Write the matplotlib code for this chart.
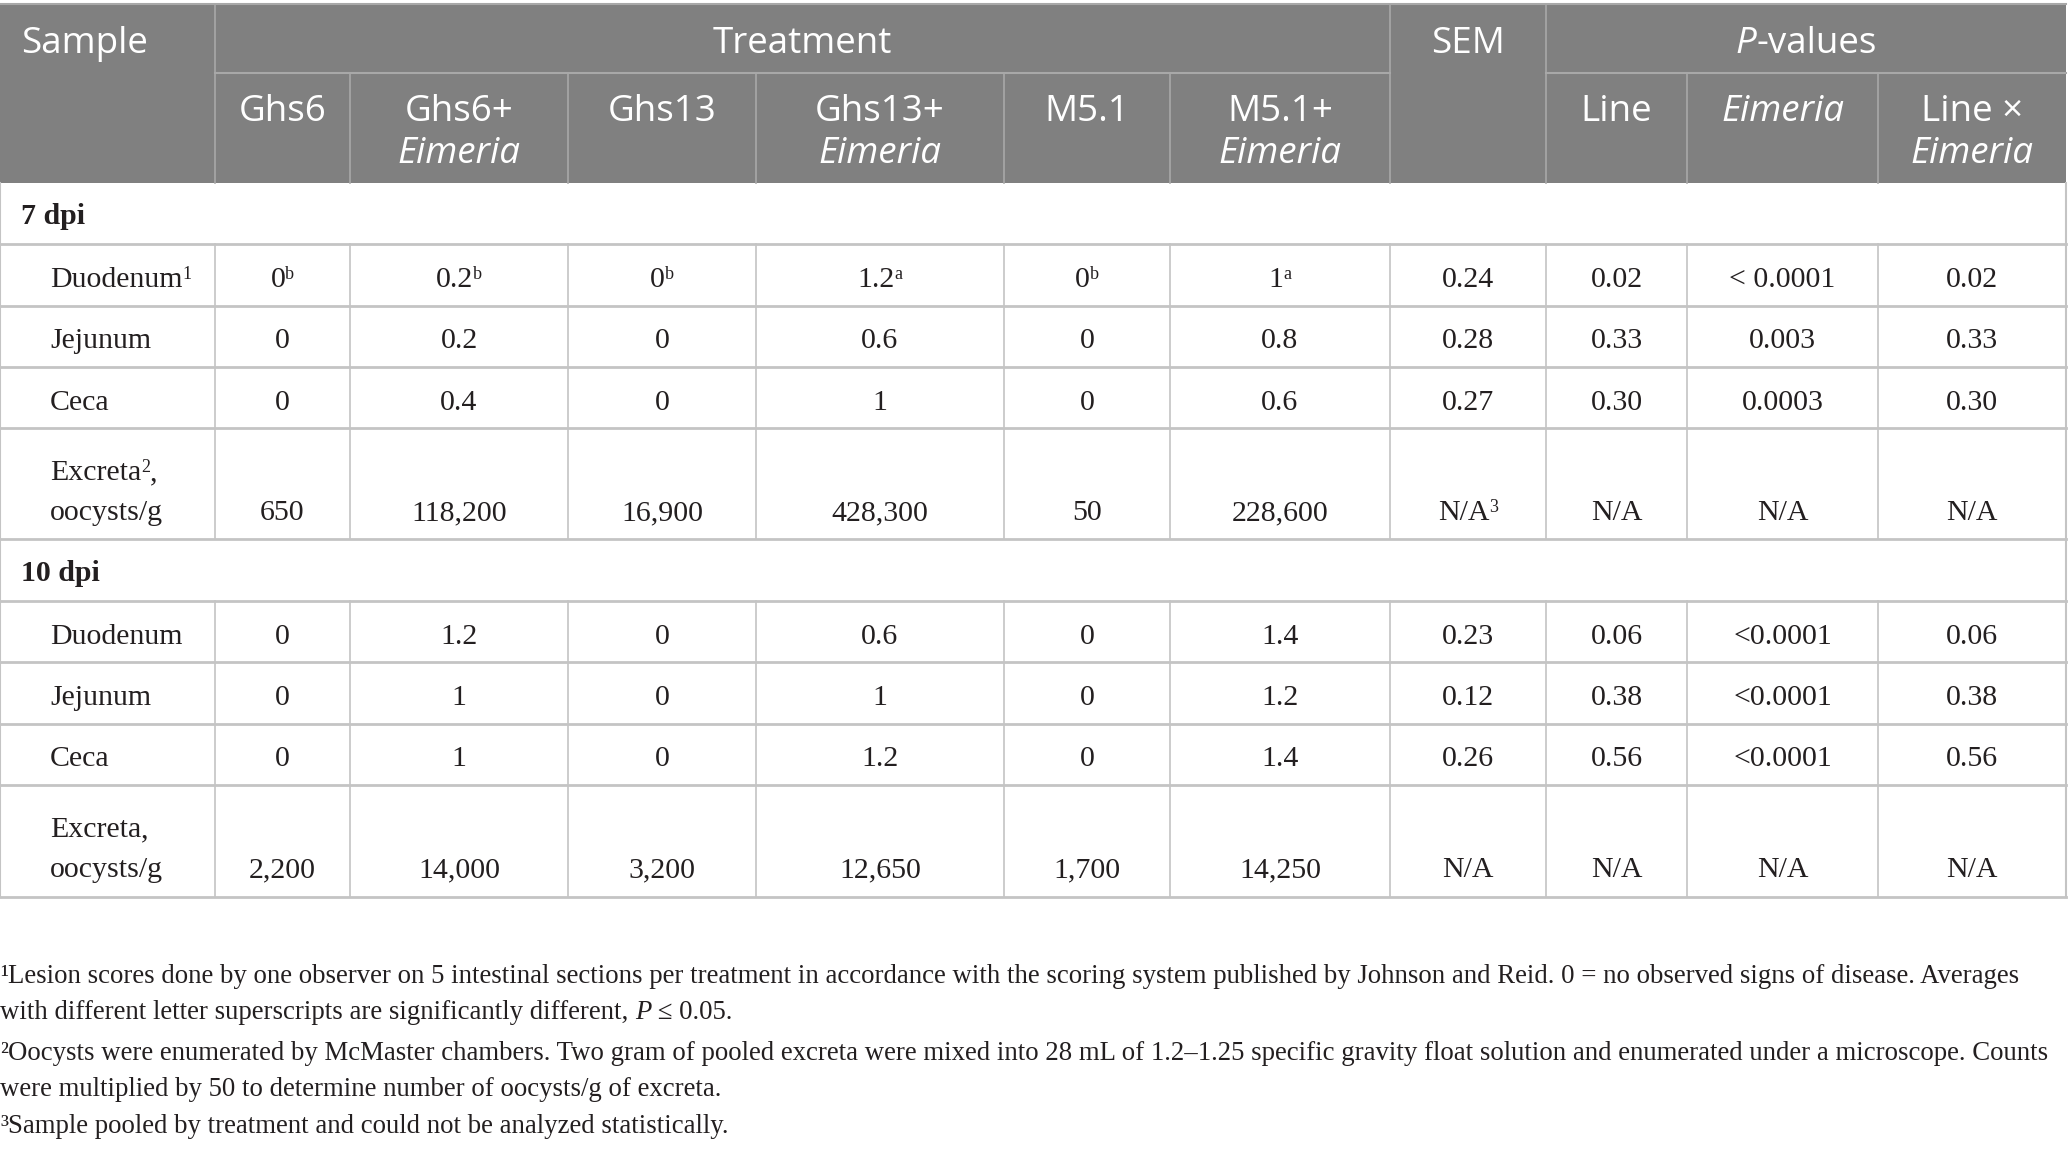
import matplotlib
matplotlib.use("Agg")
import matplotlib.pyplot as plt
from matplotlib.patches import Rectangle

# ---------------- data ----------------
treatments = ["Ghs6", "Ghs6+", "Ghs13", "Ghs13+", "M5.1", "M5.1+"]
treat_eimeria = [False, True, False, True, False, True]
pval_heads = ["Line", "", "Line ×"]
pval_eimeria = [False, True, True]

rows7 = ["Duodenum", "Jejunum", "Ceca", "Excreta"]
rows7_sup = ["1", "", "", "2"]
rows10 = ["Duodenum", "Jejunum", "Ceca", "Excreta"]
rows10_sup = ["", "", "", ""]

d7_duodenum = ["0", "0.2", "0", "1.2", "0", "1"]
d7_duodenum_sup = ["b", "b", "b", "a", "b", "a"]
d7_jejunum = ["0", "0.2", "0", "0.6", "0", "0.8"]
d7_ceca = ["0", "0.4", "0", "1", "0", "0.6"]
d7_excreta = ["650", "118,200", "16,900", "428,300", "50", "228,600"]
sem7 = ["0.24", "0.28", "0.27", "N/A"]
sem7_sup = ["", "", "", "3"]
p_line7 = ["0.02", "0.33", "0.30", "N/A"]
p_eim7 = ["< 0.0001", "0.003", "0.0003", "N/A"]
p_int7 = ["0.02", "0.33", "0.30", "N/A"]

d10_duodenum = ["0", "1.2", "0", "0.6", "0", "1.4"]
d10_jejunum = ["0", "1", "0", "1", "0", "1.2"]
d10_ceca = ["0", "1", "0", "1.2", "0", "1.4"]
d10_excreta = ["2,200", "14,000", "3,200", "12,650", "1,700", "14,250"]
sem10 = ["0.23", "0.12", "0.26", "N/A"]
p_line10 = ["0.06", "0.38", "0.56", "N/A"]
p_eim10 = ["<0.0001", "<0.0001", "<0.0001", "N/A"]
p_int10 = ["0.06", "0.38", "0.56", "N/A"]

footnotes = [
    [("¹", "sup"), ("Lesion scores done by one observer on 5 intestinal sections per treatment in accordance with the scoring system published by Johnson and Reid. 0 = no observed signs of disease. Averages", "n")],
    [("with different letter superscripts are significantly different, ", "n"), ("P", "i"), (" ≤ 0.05.", "n")],
    [("²", "sup"), ("Oocysts were enumerated by McMaster chambers. Two gram of pooled excreta were mixed into 28 mL of 1.2–1.25 specific gravity float solution and enumerated under a microscope. Counts", "n")],
    [("were multiplied by 50 to determine number of oocysts/g of excreta.", "n")],
    [("³", "sup"), ("Sample pooled by treatment and could not be analyzed statistically.", "n")],
]

# ---------------- layout ----------------
W, H = 2068, 1149
col_edges = [0, 215, 350, 568, 756, 1004, 1170, 1390, 1546, 1687, 1878, 2066]
hdr_top, hdr_mid, hdr_bot = 4, 73, 183
row_edges = [183, 244, 306, 367, 428, 539, 601, 662, 724, 785, 897]

HDR_BG = "#808080"
HDR_LINE = "#a8a8a8"
BODY_LINE = "#c4c4c4"
TXT = "#231f20"
SANS = "Open Sans"
SERIF = "Liberation Serif"
HS = 26.5
BS = 21.5
SUPS = 13
FS = 19.3

fig = plt.figure(figsize=(W / 100, H / 100), dpi=100)
ax = fig.add_axes([0, 0, 1, 1])
ax.set_xlim(0, W)
ax.set_ylim(H, 0)
ax.axis("off")
renderer = fig.canvas.get_renderer()


def runs(x, y, parts, ha="center"):
    """parts: list of (text, dict of font kwargs, dy)"""
    objs = []
    widths = []
    for s, kw, dy in parts:
        t = ax.text(0, 0, s, va="baseline", ha="left", **kw)
        bb = t.get_window_extent(renderer=renderer)
        objs.append((t, dy))
        widths.append(bb.width)
    total = sum(widths)
    x0 = x - total / 2 if ha == "center" else x
    for (t, dy), w in zip(objs, widths):
        t.set_position((x0, y - dy))
        x0 += w


def body(x, y, s, sup="", ha="center", weight="normal", tail=""):
    parts = [(s, dict(fontfamily=SERIF, fontsize=BS, color=TXT, fontweight=weight), 0)]
    if sup:
        parts.append((sup, dict(fontfamily=SERIF, fontsize=SUPS, color=TXT), 8))
    if tail:
        parts.append((tail, dict(fontfamily=SERIF, fontsize=BS, color=TXT), 0))
    runs(x, y, parts, ha=ha)


# header background
ax.add_patch(Rectangle((0, hdr_top), col_edges[-1], hdr_bot - hdr_top, facecolor=HDR_BG, edgecolor="none"))

# header lines
ax.plot([0, col_edges[-1]], [hdr_top, hdr_top], color=HDR_LINE, lw=1.5)
ax.plot([col_edges[1], col_edges[7]], [hdr_mid, hdr_mid], color=HDR_LINE, lw=1.5)
ax.plot([col_edges[8], col_edges[11]], [hdr_mid, hdr_mid], color=HDR_LINE, lw=1.5)
for i in [1, 7, 8]:
    ax.plot([col_edges[i], col_edges[i]], [hdr_top, hdr_bot], color=HDR_LINE, lw=1.2)
for i in [2, 3, 4, 5, 6, 9, 10]:
    ax.plot([col_edges[i], col_edges[i]], [hdr_mid, hdr_bot], color=HDR_LINE, lw=1.2)

white = dict(fontfamily=SANS, fontsize=HS, color="white")
whitei = dict(fontfamily=SANS, fontsize=HS, color="white", style="italic")

ax.text(21, 53, "Sample", va="baseline", ha="left", **white)
ax.text((col_edges[1] + col_edges[7]) / 2, 53, "Treatment", va="baseline", ha="center", **white)
ax.text((col_edges[7] + col_edges[8]) / 2, 53, "SEM", va="baseline", ha="center", **white)
runs((col_edges[8] + col_edges[11]) / 2, 53, [("P", whitei, 0), ("-values", white, 0)])

for j, (name, eim) in enumerate(zip(treatments, treat_eimeria)):
    cx = (col_edges[j + 1] + col_edges[j + 2]) / 2
    ax.text(cx, 121, name, va="baseline", ha="center", **white)
    if eim:
        ax.text(cx, 163, "Eimeria", va="baseline", ha="center", **whitei)

for j, (name, eim) in enumerate(zip(pval_heads, pval_eimeria)):
    cx = (col_edges[j + 8] + col_edges[j + 9]) / 2
    if name and eim:
        ax.text(cx, 121, name, va="baseline", ha="center", **white)
        ax.text(cx, 163, "Eimeria", va="baseline", ha="center", **whitei)
    elif name:
        ax.text(cx, 121, name, va="baseline", ha="center", **white)
    else:
        ax.text(cx, 121, "Eimeria", va="baseline", ha="center", **whitei)

# body lines
for y in row_edges[1:]:
    ax.plot([0, col_edges[-1]], [y, y], color=BODY_LINE, lw=2)
ax.plot([0, 0], [hdr_bot, row_edges[-1]], color=BODY_LINE, lw=1.5)
ax.plot([col_edges[-1], col_edges[-1]], [hdr_bot, row_edges[-1]], color=BODY_LINE, lw=1.5)
for a, b in [(1, 5), (6, 10)]:
    for i in range(1, len(col_edges) - 1):
        ax.plot([col_edges[i], col_edges[i]], [row_edges[a], row_edges[b]], color=BODY_LINE, lw=1.2)

# section rows
body(21, 224, "7 dpi", ha="left", weight="bold")
body(21, 581, "10 dpi", ha="left", weight="bold")

centers = [(col_edges[k] + col_edges[k + 1]) / 2 for k in range(1, len(col_edges) - 1)]


def fill_block(first_row, names, sups, data, data_sups, sem, sem_sups, pl, pe, pi):
    for r in range(4):
        top, bot = row_edges[first_row + r], row_edges[first_row + r + 1]
        if r < 3:
            base = (top + bot) / 2 + 12
            body(50, base, names[r], sup=sups[r], ha="left")
        else:
            body(50, top + 52, names[r], sup=sups[r], ha="left", tail=",")
            base = top + 92
            body(50, base, "oocysts/g", ha="left")
        for j in range(6):
            body(centers[j], base, data[r][j], sup=data_sups[r][j])
        body(centers[6], base, sem[r], sup=sem_sups[r])
        body(centers[7], base, pl[r])
        body(centers[8], base, pe[r])
        body(centers[9], base, pi[r])


no_sup = [""] * 6
fill_block(1, rows7, rows7_sup,
           [d7_duodenum, d7_jejunum, d7_ceca, d7_excreta],
           [d7_duodenum_sup, no_sup, no_sup, no_sup],
           sem7, sem7_sup, p_line7, p_eim7, p_int7)
fill_block(6, rows10, rows10_sup,
           [d10_duodenum, d10_jejunum, d10_ceca, d10_excreta],
           [no_sup, no_sup, no_sup, no_sup],
           sem10, ["", "", "", ""], p_line10, p_eim10, p_int10)

# footnotes
foot_base = [983, 1019, 1060, 1096, 1133]
for y, line in zip(foot_base, footnotes):
    parts = []
    for s, kind in line:
        if kind == "i":
            parts.append((s, dict(fontfamily=SERIF, fontsize=FS, color=TXT, style="italic"), 0))
        else:
            parts.append((s, dict(fontfamily=SERIF, fontsize=FS, color=TXT), 0))
    runs(0, y, parts, ha="left")

fig.savefig("out.png", dpi=100, facecolor="white")
